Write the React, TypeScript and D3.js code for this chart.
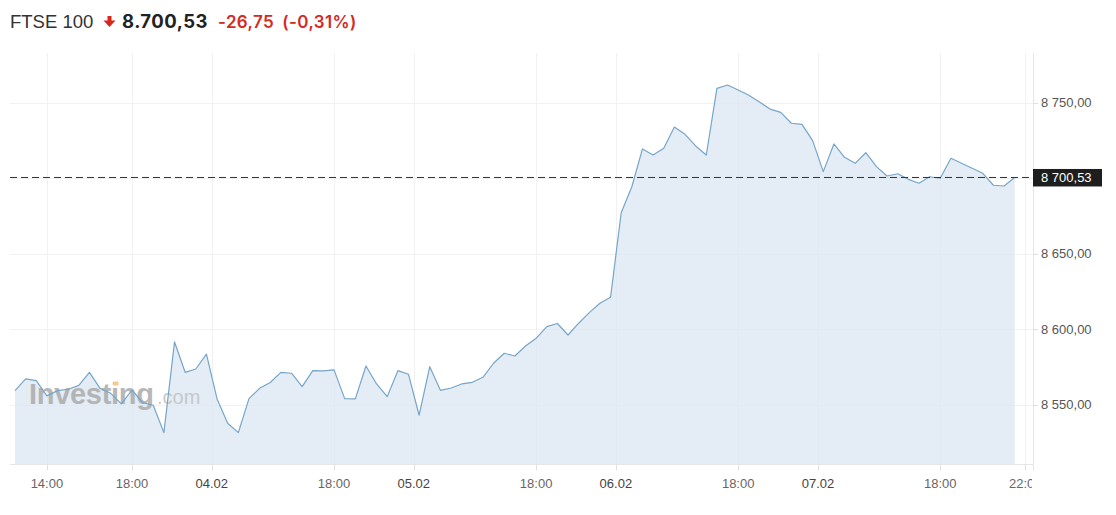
import React from "react";
import * as d3 from "d3";

const title = "FTSE 100";
const lastPrice = 8700.53;
const headerPrice = "8.700,53";
const headerChange = "-26,75";
const headerPct = "(-0,31%)";

const values = [
  8559.5, 8567.2, 8566.1, 8556.0, 8559.5, 8560.4, 8563.0, 8571.6, 8561.0, 8557.7,
  8550.7, 8559.9, 8551.5, 8549.8, 8531.7, 8591.7, 8571.6, 8573.8, 8583.7, 8554.0,
  8537.9, 8531.7, 8554.2, 8561.0, 8564.9, 8571.6, 8571.0, 8562.1, 8572.7, 8572.5,
  8573.2, 8554.2, 8554.0, 8575.8, 8563.9, 8555.5, 8572.7, 8570.3, 8543.2, 8575.3,
  8559.7, 8561.2, 8563.9, 8565.0, 8568.3, 8577.6, 8584.2, 8582.4, 8589.0, 8594.1,
  8601.8, 8603.9, 8596.3, 8604.1, 8611.1, 8617.3, 8621.3, 8677.2, 8694.4, 8719.4,
  8715.4, 8719.8, 8733.9, 8729.1, 8721.4, 8715.4, 8759.5, 8761.7, 8758.4, 8754.9,
  8750.5, 8745.8, 8743.6, 8736.4, 8735.7, 8724.9, 8704.4, 8722.7, 8713.9, 8709.9,
  8716.9, 8707.7, 8701.5, 8703.0, 8699.3, 8696.7, 8701.0, 8700.0, 8713.2, 8709.9,
  8706.6, 8703.3, 8695.4, 8694.9, 8700.53,
];

const xTickIdx = [3, 11, 18.5, 30, 37.5, 49, 56.5, 68, 75.5, 87, 95];
const xTickLabels = ["14:00", "18:00", "04.02", "18:00", "05.02", "18:00", "06.02", "18:00", "07.02", "18:00", "22:00"];
const yTicks = [8550, 8600, 8650, 8700, 8750];
const yLabelTicks = [8550, 8600, 8650, 8750];
const yDomain = [8510.6, 8782.9];

const W = 1116;
const H = 515;
const plotLeft = 10;
const plotRight = 1033;
const plotTop = 53;
const plotBottom = 464.5;

const locale = d3.formatLocale({ decimal: ",", thousands: " ", grouping: [3], currency: ["", ""] });
const fmt = locale.format(",.2f");

export default function App() {
  const x = d3.scaleLinear().domain([0, values.length - 1]).range([15, 1014.7]);
  const y = d3.scaleLinear().domain(yDomain).range([plotBottom, plotTop]);

  const line = d3
    .line<number>()
    .x((_, i) => x(i))
    .y((d) => y(d));
  const area = d3
    .area<number>()
    .x((_, i) => x(i))
    .y0(plotBottom)
    .y1((d) => y(d));

  const axisFont = "'Liberation Sans', Arial, sans-serif";
  const headerFont = "Inter, 'Noto Sans', sans-serif";
  const yLast = y(lastPrice);

  return (
    <div style={{ position: "absolute", left: 0, top: 0 }}>
      <svg width={W} height={H} style={{ display: "block", background: "#fff" }}>
        <defs>
          <clipPath id="xlabClip">
            <rect x={0} y={plotBottom} width={plotRight - 1} height={50} />
          </clipPath>
        </defs>

        {/* header */}
        <text x={10} y={28.3} fontFamily={axisFont} fontSize={18.5} fill="#333">
          {title}
        </text>
        <g fill="#d7261b">
          <rect x={107.5} y={16} width={4} height={5} />
          <path d="M103.5,20.5 L115.5,20.5 L109.5,27 Z" />
        </g>
        <text x={122} y={28.3} fontFamily={headerFont} fontSize={18.5} fontWeight={700} fill="#222" letterSpacing={0.5}>
          {headerPrice}
        </text>
        <text x={218} y={28.3} fontFamily={headerFont} fontSize={17} fontWeight={600} fill="#d42a1f" letterSpacing={0.4}>
          {headerChange}
          <tspan dx={8}>{headerPct}</tspan>
        </text>

        {/* grid */}
        <g stroke="#f1f1f1" strokeWidth={1}>
          {yTicks.map((t) => (
            <line key={"gy" + t} x1={plotLeft} x2={plotRight} y1={Math.round(y(t)) + 0.5} y2={Math.round(y(t)) + 0.5} />
          ))}
          {xTickIdx.map((t, i) => (
            <line key={"gx" + i} x1={Math.round(x(t)) + 0.5} x2={Math.round(x(t)) + 0.5} y1={plotTop} y2={plotBottom} />
          ))}
        </g>

        {/* area */}
        <path d={area(values) || ""} fill="#dde8f3" fillOpacity={0.8} />

        {/* watermark */}
        <g opacity={0.85}>
          <text x={29} y={404} fontFamily={axisFont} fontSize={29} fontWeight={700} fill="#ababab" letterSpacing={-0.3}>
            Investing
          </text>
          <rect x={114} y={381.5} width={4.5} height={4} fill="#f5c27a" />
          <text x={157} y={404} fontFamily={axisFont} fontSize={20} fill="#c2c2c2">
            .com
          </text>
        </g>

        {/* line */}
        <path d={line(values) || ""} fill="none" stroke="#76a5c9" strokeWidth={1.2} strokeLinejoin="round" />

        {/* last price dashed */}
        <line x1={plotLeft} x2={plotRight - 3} y1={yLast} y2={yLast} stroke="#333" strokeWidth={1} strokeDasharray="7,4" />

        {/* axes */}
        <line x1={plotLeft} x2={plotRight} y1={plotBottom} y2={plotBottom} stroke="#e6e6e6" />
        <line x1={plotRight + 0.5} x2={plotRight + 0.5} y1={plotTop} y2={plotBottom + 6} stroke="#e6e6e6" />

        {xTickIdx.map((t, i) => (
          <line key={"xt" + i} x1={Math.round(x(t)) + 0.5} x2={Math.round(x(t)) + 0.5} y1={plotBottom} y2={plotBottom + 6} stroke="#e0e0e0" />
        ))}
        <g clipPath="url(#xlabClip)">
          {xTickIdx.map((t, i) => (
            <text
              key={"xl" + i}
              x={x(t)}
              y={488}
              textAnchor="middle"
              fontFamily={axisFont}
              fontSize={13}
              fill={xTickLabels[i].includes(".") ? "#444" : "#666"}
            >
              {xTickLabels[i]}
            </text>
          ))}
        </g>

        {yLabelTicks.map((t) => (
          <g key={"yl" + t}>
            <line x1={plotRight} x2={plotRight + 5} y1={Math.round(y(t)) + 0.5} y2={Math.round(y(t)) + 0.5} stroke="#e0e0e0" />
            <text x={1041} y={y(t) + 4.5} fontFamily={axisFont} fontSize={13} fill="#555">
              {fmt(t)}
            </text>
          </g>
        ))}

        {/* price badge */}
        <rect x={plotRight} y={yLast - 8.5} width={69} height={17.5} fill="#1e1e1e" />
        <text x={1041} y={yLast + 4.8} fontFamily={axisFont} fontSize={13} fill="#fff">
          {fmt(lastPrice)}
        </text>
      </svg>
    </div>
  );
}
